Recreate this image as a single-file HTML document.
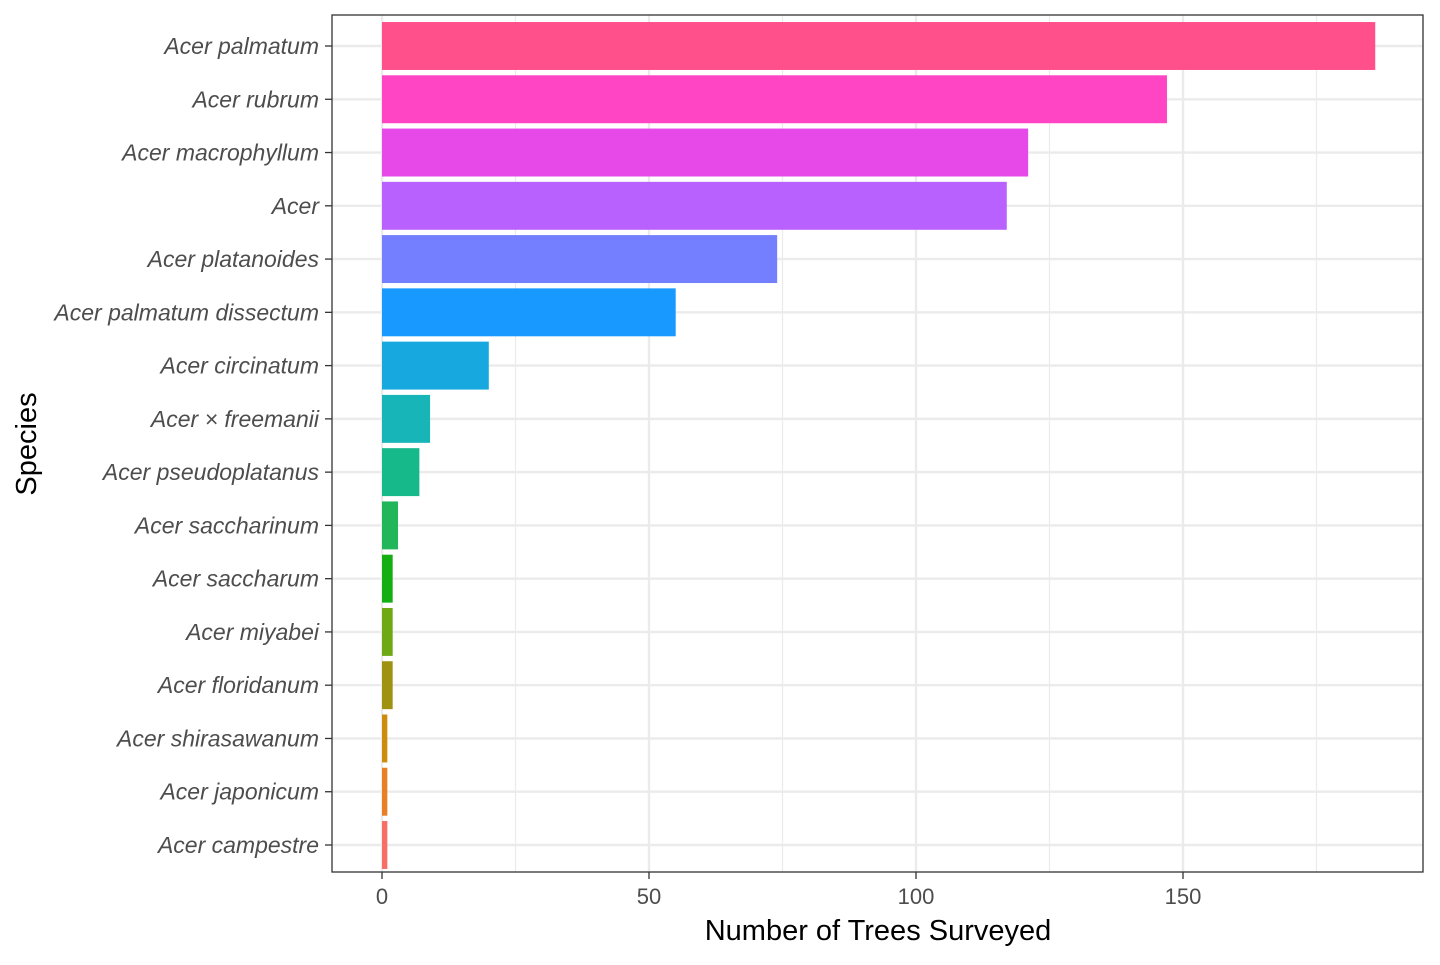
<!DOCTYPE html>
<html><head><meta charset="utf-8">
<style>
html,body{margin:0;padding:0;background:#fff;}
svg text{font-family:"Liberation Sans",Arial,sans-serif;}
</style></head>
<body>
<svg id="chart" width="1440" height="960" xmlns="http://www.w3.org/2000/svg">
<g id="grid"></g>
<g id="bars"></g>
<rect x="332" y="15" width="1091" height="857" fill="none" stroke="#333" stroke-width="1.3"/>
<g id="axes"></g>
<text x="878" y="940" font-size="29" text-anchor="middle" fill="#000">Number of Trees Surveyed</text>
<text transform="translate(36,444) rotate(-90)" font-size="29" text-anchor="middle" fill="#000">Species</text>
</svg>
<script>
const categories = ["Acer palmatum","Acer rubrum","Acer macrophyllum","Acer","Acer platanoides","Acer palmatum dissectum","Acer circinatum","Acer × freemanii","Acer pseudoplatanus","Acer saccharinum","Acer saccharum","Acer miyabei","Acer floridanum","Acer shirasawanum","Acer japonicum","Acer campestre"];
const counts = [186,147,121,117,74,55,20,9,7,3,2,2,2,1,1,1];
const colors = ["#FF508C","#FF45C3","#E649E8","#B861FF","#737FFF","#1799FF","#18A8E0","#18B5B8","#15B98A","#21B65A","#12AE12","#6EA812","#A09211","#CC8D0D","#E87F24","#F86D64"];
const xTicks = [0,50,100,150];
const xMinor = [25,75,125,175];

const NS="http://www.w3.org/2000/svg";
const x0=382, pxPerUnit=5.34;
function xs(v){return x0+v*pxPerUnit;}
const yTop=46, step=(845-46)/(categories.length-1);
function ys(i){return yTop+i*step;}
function mk(tag,attrs,parent){const e=document.createElementNS(NS,tag);for(const k in attrs)e.setAttribute(k,attrs[k]);parent.appendChild(e);return e;}
const grid=document.getElementById('grid'),bars=document.getElementById('bars'),axes=document.getElementById('axes');
mk('rect',{x:332,y:15,width:1091,height:857,fill:'#fff'},grid);
xMinor.forEach(v=>{const l=mk('line',{x1:xs(v),x2:xs(v),y1:15,y2:872,stroke:'#EBEBEB','stroke-width':1.2},grid);

});
xTicks.forEach(v=>{const l=mk('line',{x1:xs(v),x2:xs(v),y1:15,y2:872,stroke:'#EBEBEB','stroke-width':2.4},grid);


const t=mk('line',{x1:xs(v),x2:xs(v),y1:872,y2:879,stroke:'#333','stroke-width':1.3},axes);


const tx=mk('text',{x:xs(v),y:904,'font-size':22,'text-anchor':'middle',fill:'#4D4D4D'},axes);
tx.textContent=v;

});
categories.forEach((c,i)=>{const y=ys(i);
const l=mk('line',{x1:332,x2:1423,y1:y,y2:y,stroke:'#EBEBEB','stroke-width':2.4},grid);


const h=step*0.9;
const b=mk('rect',{x:xs(0),y:y-h/2,width:xs(counts[i])-xs(0),height:h,fill:colors[i]},bars);


const t=mk('line',{x1:325,x2:332,y1:y,y2:y,stroke:'#333','stroke-width':1.3},axes);


const tx=mk('text',{x:319,y:y+8,'font-size':23,'text-anchor':'end','font-style':'italic',fill:'#4D4D4D'},axes);
tx.textContent=c;

});
</script>
</body></html>
